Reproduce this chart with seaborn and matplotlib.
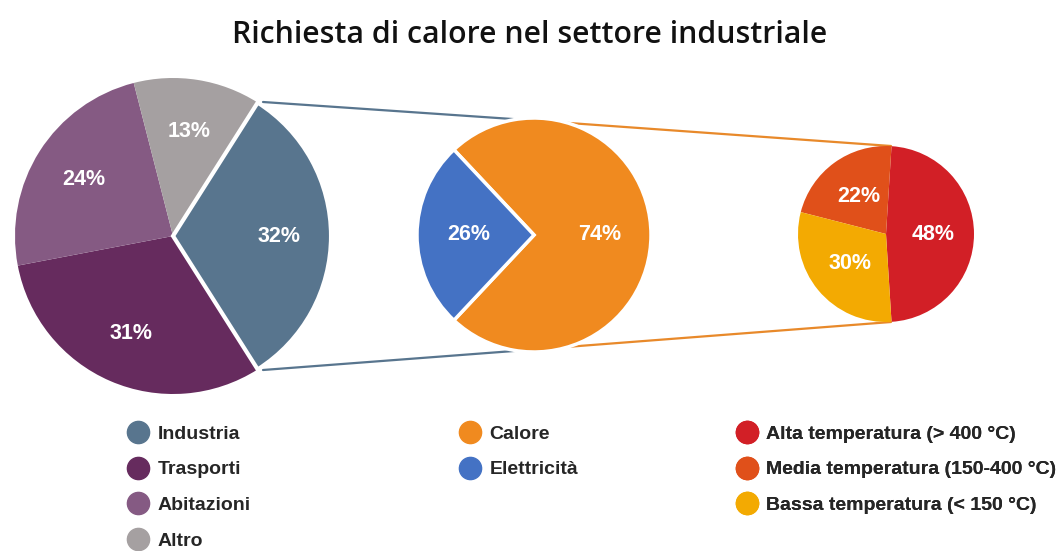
import matplotlib.pyplot as plt
from matplotlib.lines import Line2D
import seaborn as sns

# dati
settori = ["Industria", "Trasporti", "Abitazioni", "Altro"]
settori_pct = [32, 31, 24, 13]
settori_col = ["#58758E", "#662B5E", "#855A83", "#A5A0A1"]

industria = ["Calore", "Elettricità"]
industria_pct = [74, 26]
industria_col = ["#F08A1F", "#4472C4"]

calore = ["Alta temperatura (> 400 °C)", "Media temperatura (150-400 °C)", "Bassa temperatura (< 150 °C)"]
calore_pct = [48, 22, 30]
calore_col = ["#D21F26", "#E0501A", "#F3AA02"]

sns.set_theme(style="white")
plt.rcParams["font.family"] = ["Liberation Sans", "DejaVu Sans"]

W, H = 1059, 551
fig = plt.figure(figsize=(W / 100, H / 100), dpi=100)
ax = fig.add_axes([0, 0, 1, 1])
ax.set_aspect("equal")

txt = dict(color="white", fontsize=15.5, fontweight="bold")

# torta 1: settori
c1, r1 = (173, H - 236), 158
w1, _, t1 = ax.pie(settori_pct, colors=settori_col, startangle=57.6, counterclock=False,
                   center=c1, radius=r1, explode=[0.035, 0, 0, 0],
                   autopct="%.0f%%", pctdistance=0.67, textprops=txt,
                   wedgeprops=dict(linewidth=0), frame=True)
w1[0].set_edgecolor("white")
w1[0].set_linewidth(3)
w1[0].set_zorder(2)

# torta 2: industria
c2, r2 = (534, H - 235), 117
ax.pie(industria_pct, colors=industria_col, startangle=133.2, counterclock=False,
       center=c2, radius=r2, autopct="%.0f%%", pctdistance=0.56, textprops=txt,
       wedgeprops=dict(edgecolor="white", linewidth=2.5), frame=True)

# torta 3: calore
c3, r3 = (886, H - 234), 88
ax.pie(calore_pct, colors=calore_col, startangle=-86.4, counterclock=True,
       center=c3, radius=r3, autopct="%.0f%%", pctdistance=0.53, textprops=txt,
       wedgeprops=dict(linewidth=0), frame=True)
for t in t1:
    t.set_zorder(5)
ax.set_xlim(0, W)
ax.set_ylim(0, H)
ax.axis("off")

# linee di collegamento
ax.plot([263, 527], [H - 102, H - 120], color="#58758E", lw=1.6, zorder=0)
ax.plot([263, 527], [H - 370, H - 350], color="#58758E", lw=1.6, zorder=0)
ax.plot([527, 891], [H - 120, H - 146], color="#E8892A", lw=1.6, zorder=0)
ax.plot([527, 891], [H - 350, H - 322], color="#E8892A", lw=1.6, zorder=0)

fig.text(0.5, 1 - 35 / H, "Richiesta di calore nel settore industriale",
         ha="center", va="center", fontsize=21.8, fontweight="semibold",
         family=["Open Sans", "DejaVu Sans"], color="#111111")


def legenda(nomi, colori, x_px):
    handles = [Line2D([], [], marker="o", ls="", markersize=16, color=c) for c in colori]
    leg = ax.legend(handles, nomi, loc="upper left",
                    bbox_to_anchor=((x_px - 9.7) / W, 1 - 425 / H),
                    bbox_transform=fig.transFigure, frameon=False,
                    handlelength=1, handletextpad=0.5, labelspacing=0.93,
                    borderpad=0, borderaxespad=0,
                    prop=dict(family="Liberation Sans", weight="bold", size=14))
    ax.add_artist(leg)


legenda(settori, settori_col, 138)
legenda(industria, industria_col, 470)
legenda(calore, calore_col, 747)

fig.savefig("out.png", dpi=100)
